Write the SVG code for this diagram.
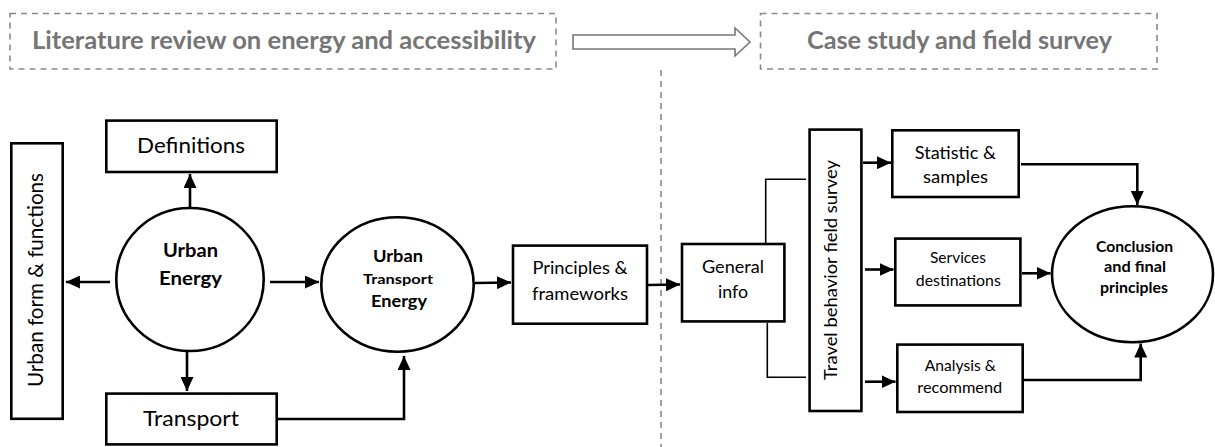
<svg xmlns="http://www.w3.org/2000/svg" width="1215" height="447" viewBox="0 0 1215 447">
<style>
.box{fill:#fff;stroke:#000;stroke-width:2.6}
.dash{fill:none;stroke:#8a8a8a;stroke-width:1.6;stroke-dasharray:6 5}
.con{fill:none;stroke:#000;stroke-width:2.6}
.thin{fill:none;stroke:#000;stroke-width:1.6}
text{font-family:Lato,"Open Sans","Liberation Sans",sans-serif;fill:#000;text-anchor:middle}
.t{font-size:21.5px}
.m{font-size:17.5px}
.s{font-size:15px}
.b{font-weight:bold}
.g{fill:#757575;font-weight:bold;font-size:24px}
</style>
<defs>
<marker id="ah" markerUnits="userSpaceOnUse" markerWidth="14" markerHeight="13" refX="14" refY="6.5" orient="auto">
<path d="M0,0 L14,6.5 L0,13 z" fill="#000"/>
</marker>
</defs>

<g id="phase-literature">
<rect class="dash" x="10" y="13.5" width="546" height="55.5"/>
<text class="g" x="284" y="49" textLength="504" lengthAdjust="spacingAndGlyphs">Literature review on energy and accessibility</text>
</g>
<g id="phase-arrow">
<polygon points="573,35 735,35 735,28 750,42 735,56 735,49 573,49" fill="#fff" stroke="#777" stroke-width="1.6"/>
</g>
<g id="phase-case">
<rect class="dash" x="760.5" y="13.5" width="396.5" height="55.5"/>
<text class="g" x="959.5" y="49" textLength="305" lengthAdjust="spacingAndGlyphs">Case study and field survey</text>
</g>
<g id="divider">
<line x1="661" y1="70" x2="661" y2="447" class="dash"/>
</g>

<g id="connectors">
<line class="con" x1="190" y1="207" x2="190" y2="174" marker-end="url(#ah)"/>
<line class="con" x1="187" y1="352" x2="187" y2="391" marker-end="url(#ah)"/>
<line class="con" x1="110" y1="282" x2="66" y2="282" marker-end="url(#ah)"/>
<line class="con" x1="270" y1="282" x2="319" y2="282" marker-end="url(#ah)"/>
<polyline class="con" points="278,419 404,419 404,356" marker-end="url(#ah)"/>
<line class="con" x1="475" y1="283" x2="511" y2="282.5" marker-end="url(#ah)"/>
<line class="con" x1="648" y1="285" x2="680" y2="284.5" marker-end="url(#ah)"/>
<polyline class="thin" points="765.7,243 765.7,179.3 806,179.3"/>
<polyline class="thin" points="767.3,323 767.3,377.3 806,377.3"/>
<line class="con" x1="863" y1="162.7" x2="891" y2="162.7" marker-end="url(#ah)"/>
<line class="con" x1="865" y1="269.5" x2="893.5" y2="269.5" marker-end="url(#ah)"/>
<line class="con" x1="865" y1="381.7" x2="895.5" y2="381.7" marker-end="url(#ah)"/>
<polyline class="con" points="1021,164.3 1137.3,164.3 1137.3,205" marker-end="url(#ah)"/>
<line class="con" x1="1022" y1="273.3" x2="1050.5" y2="273.3" marker-end="url(#ah)"/>
<polyline class="con" points="1024,380 1140.7,380 1140.7,343.5" marker-end="url(#ah)"/>
</g>

<g id="urban-form">
<rect class="box" x="11.3" y="143.3" width="51.4" height="275.5"/>
<text class="t" transform="translate(43,280) rotate(-90)" textLength="214" lengthAdjust="spacingAndGlyphs">Urban form &amp; functions</text>
</g>
<g id="definitions">
<rect class="box" x="106.3" y="120.6" width="170.4" height="51.4"/>
<text class="t" x="191" y="153" textLength="108" lengthAdjust="spacingAndGlyphs">Definitions</text>
</g>
<g id="urban-energy">
<ellipse class="box" cx="190" cy="279.5" rx="73.7" ry="71.5"/>
<text class="b" style="font-size:19px" x="190.5" y="257" textLength="55" lengthAdjust="spacingAndGlyphs">Urban</text>
<text class="b" style="font-size:19px" x="190.5" y="285" textLength="63" lengthAdjust="spacingAndGlyphs">Energy</text>
</g>
<g id="transport">
<rect class="box" x="106.3" y="393.6" width="170.4" height="50.8"/>
<text class="t" x="191" y="426" textLength="96" lengthAdjust="spacingAndGlyphs">Transport</text>
</g>
<g id="urban-transport-energy">
<ellipse class="box" cx="397.5" cy="284.5" rx="76.2" ry="67.2"/>
<text class="b" style="font-size:17px" x="398" y="262" textLength="50" lengthAdjust="spacingAndGlyphs">Urban</text>
<text class="b" style="font-size:14px" x="398" y="284" textLength="70" lengthAdjust="spacingAndGlyphs">Transport</text>
<text class="b" style="font-size:17px" x="399" y="307" textLength="56" lengthAdjust="spacingAndGlyphs">Energy</text>
</g>
<g id="principles">
<rect class="box" x="513" y="245.6" width="134" height="78.1"/>
<text class="m" x="580" y="274" textLength="95" lengthAdjust="spacingAndGlyphs">Principles &amp;</text>
<text class="m" x="580" y="300" textLength="96" lengthAdjust="spacingAndGlyphs">frameworks</text>
</g>
<g id="general-info">
<rect class="box" x="682" y="244" width="102.4" height="77.4"/>
<text class="m" x="733" y="272.7" textLength="62" lengthAdjust="spacingAndGlyphs">General</text>
<text class="m" x="733" y="297.7" textLength="30" lengthAdjust="spacingAndGlyphs">info</text>
</g>
<g id="travel-survey">
<rect class="box" x="809.6" y="129.6" width="51.8" height="281.4"/>
<text class="m" transform="translate(836.7,270) rotate(-90)" textLength="220" lengthAdjust="spacingAndGlyphs">Travel behavior field survey</text>
</g>
<g id="statistic">
<rect class="box" x="892.3" y="130.3" width="126.4" height="66.7"/>
<text class="m" x="955.3" y="159" textLength="81" lengthAdjust="spacingAndGlyphs">Statistic &amp;</text>
<text class="m" x="955.5" y="183.3" textLength="65" lengthAdjust="spacingAndGlyphs">samples</text>
</g>
<g id="services">
<rect class="box" x="895.3" y="238.6" width="125.1" height="66.8"/>
<text class="s" x="958" y="263.3" textLength="56" lengthAdjust="spacingAndGlyphs">Services</text>
<text class="s" x="958.3" y="286" textLength="85" lengthAdjust="spacingAndGlyphs">destinations</text>
</g>
<g id="analysis">
<rect class="box" x="897.3" y="344.6" width="125.4" height="67.4"/>
<text class="s" x="960.3" y="370.7" textLength="71" lengthAdjust="spacingAndGlyphs">Analysis &amp;</text>
<text class="s" x="959.8" y="392.7" textLength="85" lengthAdjust="spacingAndGlyphs">recommend</text>
</g>
<g id="conclusion">
<ellipse class="box" cx="1132.5" cy="274.2" rx="80.5" ry="68"/>
<text class="s b" x="1134.5" y="251.7" textLength="77" lengthAdjust="spacingAndGlyphs">Conclusion</text>
<text class="s b" x="1135" y="272.3" textLength="62" lengthAdjust="spacingAndGlyphs">and final</text>
<text class="s b" x="1134" y="293.3" textLength="68" lengthAdjust="spacingAndGlyphs">principles</text>
</g>
</svg>
